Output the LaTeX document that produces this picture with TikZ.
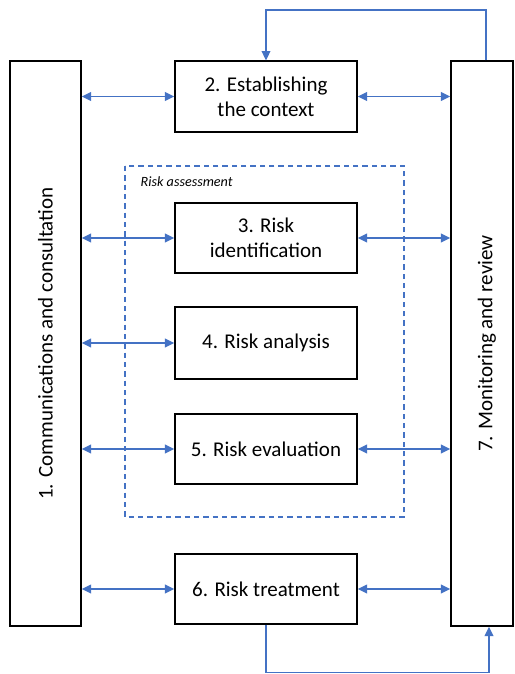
\documentclass[tikz,border=0pt]{standalone}
\usepackage{fontspec}
\setmainfont{Carlito}
\usetikzlibrary{arrows.meta}
\definecolor{flowblue}{HTML}{4472C4}
\begin{document}
\begin{tikzpicture}[x=0.75pt,y=-0.75pt,
  stepbox/.style={draw=black,line width=1.1pt,fill=white,minimum width=136.5pt,
    minimum height=53pt,align=center,inner sep=0pt,
    font=\fontsize{15.75}{19}\selectfont},
  sidebox/.style={draw=black,line width=1.1pt,fill=white,inner sep=0pt,
    minimum height=423.75pt},
  sidetext/.style={rotate=90,font=\fontsize{15.75}{19}\selectfont},
  link/.style={draw=flowblue,line width=1.1pt},
  tip/.style={},
  twoway/.style={link,{Triangle[length=7pt,width=6.5pt]}-{Triangle[length=7pt,width=6.5pt]}},
  oneway/.style={link,-{Triangle[length=7pt,width=6.5pt]}},
  group/.style={draw=flowblue,line width=0.9pt,dash pattern=on 4pt off 3pt}]
\useasboundingbox (0,0) rectangle (514,674);

% risk assessment frame
\draw[group] (125,166) rectangle (404,517);
\node[anchor=west,font=\fontsize{10.6}{12}\selectfont\itshape] (ratitle) at (136,182) {Risk assessment};

% side columns
\node[sidebox,minimum width=53.25pt] (lb) at (45.5,343.5) {};
\node[sidetext] (lbt) at (lb.center) {1. Communications and consultation};
\node[sidebox,minimum width=46.5pt] (rb) at (482,343.5) {};
\node[sidetext] (rbt) at (487,343.5) {7. Monitoring and review};

% process steps
\node[stepbox] (b2) at (266,96.5) {2. Establishing\\the context};
\node[stepbox,minimum height=52.5pt] (b3) at (266,238) {3. Risk\\identification};
\node[stepbox,minimum height=54pt] (b4) at (266,343) {4. Risk analysis};
\node[stepbox,minimum height=52.5pt] (b5) at (266,449) {5. Risk evaluation};
\node[stepbox,minimum height=52.5pt] (b6) at (266,589) {6. Risk treatment};

% communication links
\foreach \b in {b2,b3,b4,b5,b6}{
  \draw[twoway] (lb.east |- \b.west) -- (\b.west);
}
% monitoring links
\foreach \b in {b2,b3,b5,b6}{
  \draw[twoway] (\b.east) -- (rb.west |- \b.east);
}

% feedback loops
\coordinate (topturn) at (486,10);
\draw[oneway] (rb.north -| topturn) -- (topturn) -| (b2.north);
\coordinate (botturn) at (489,672.5);
\draw[oneway] (b6.south) |- (botturn) -- (botturn |- rb.south);
\end{tikzpicture}
\end{document}
